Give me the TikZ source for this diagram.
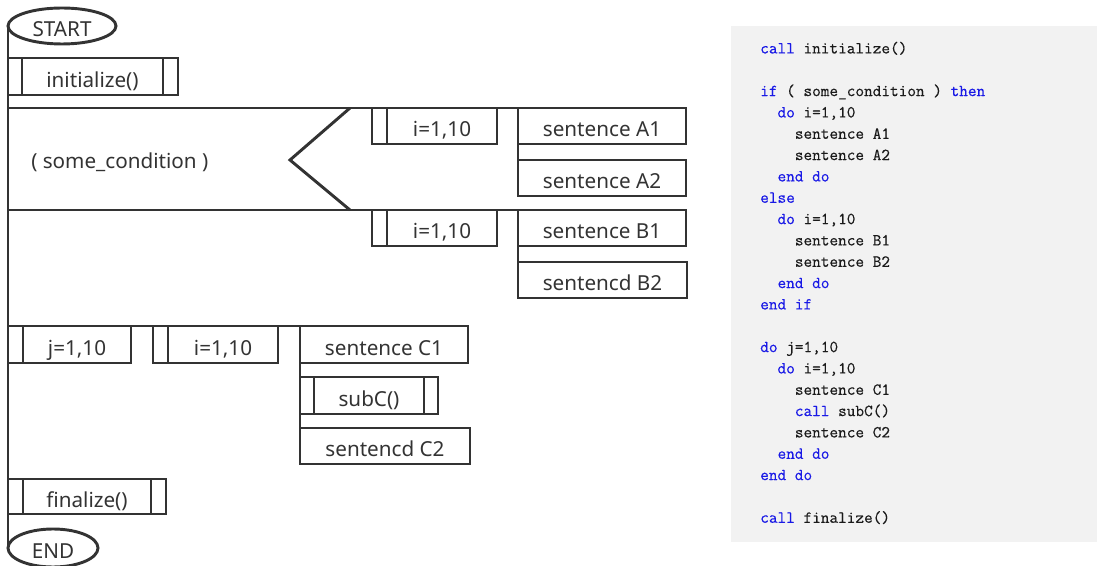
\documentclass[tikz,border=0pt]{standalone}
\usepackage{fontspec}
\setmainfont{Noto Sans}
\newfontfamily\codefont[FakeBold=0.4]{Latin Modern Mono}
\usetikzlibrary{shapes.geometric,calc}
\definecolor{ink}{HTML}{333333}
\definecolor{panel}{HTML}{F2F2F2}
\definecolor{kwblue}{RGB}{25,25,230}
\definecolor{codeink}{HTML}{1A1A1A}
\newcommand\kwd[1]{\textcolor{kwblue}{#1}}
\newcommand\ind[1]{\hphantom{#1}}
% rectangular cell given by its corners (in px units)
\newcommand\cellbox[6]{\node[cell, minimum width={(#4-#2)*0.75pt}, minimum height={(#5-#3)*0.75pt}] (#1) at ({(#2+#4)/2},{(#3+#5)/2}) {#6};}
\begin{document}
\begin{tikzpicture}[x=0.75pt,y=-0.75pt,
  cell/.style={draw=ink, line width=2.2pt, inner sep=0pt, outer sep=0pt, text=ink,
               text height=16pt, text depth=0pt, font=\fontsize{15.5}{18}\selectfont},
  term/.style={cell, ellipse},
  link/.style={draw=ink, line width=2.2pt},
  label/.style={text=ink, inner sep=0pt, font=\fontsize{15.5}{18}\selectfont}]
\useasboundingbox (0,0) rectangle (1097,566);

% code panel
\fill[panel] (731,26) rectangle (1097,542);
\node[anchor=north west, inner sep=0pt, align=left, text=codeink,
      font=\fontsize{12.6}{16}\codefont] (src) at (760,41.5) {%
\kwd{call} initialize()\\
\mbox{}\\
\kwd{if} ( some\_condition ) \kwd{then}\\
\ind{xx}\kwd{do} i=1,10\\
\ind{xxxx}sentence A1\\
\ind{xxxx}sentence A2\\
\ind{xx}\kwd{end do}\\
\kwd{else}\\
\ind{xx}\kwd{do} i=1,10\\
\ind{xxxx}sentence B1\\
\ind{xxxx}sentence B2\\
\ind{xx}\kwd{end do}\\
\kwd{end if}\\
\mbox{}\\
\kwd{do} j=1,10\\
\ind{xx}\kwd{do} i=1,10\\
\ind{xxxx}sentence C1\\
\ind{xxxx}\kwd{call} subC()\\
\ind{xxxx}sentence C2\\
\ind{xx}\kwd{end do}\\
\kwd{end do}\\
\mbox{}\\
\kwd{call} finalize()};

% terminals and main spine
\node[term, minimum width=81pt, minimum height=27pt] (start) at (62,26) {START};
\node[term, minimum width=67.5pt, minimum height=28.5pt] (end) at (53,548) {END};
\draw[link] (start.west) -- (end.west);

% call initialize()
\cellbox{initL}{8}{58}{22}{95}{}
\cellbox{init}{22}{58}{163}{95}{initialize()}
\cellbox{initR}{163}{58}{178}{95}{}

% if / else block
\node[label, anchor=west] (cond) at (31,162) {( some\_condition )};
\cellbox{loopAs}{372}{108}{387}{144}{}
\cellbox{loopA}{387}{108}{497}{144}{i=1,10}
\cellbox{A1}{518}{108}{686}{144}{sentence A1}
\cellbox{A2}{518}{160}{686}{196}{sentence A2}
\cellbox{loopBs}{372}{210}{387}{246}{}
\cellbox{loopB}{387}{210}{497}{246}{i=1,10}
\cellbox{B1}{518}{210}{686}{246}{sentence B1}
\cellbox{B2}{518}{262}{687}{298}{sentencd B2}
\coordinate (ifTop) at (8,108);
\coordinate (ifBot) at (8,210);
\coordinate (vTop) at (350,108);
\coordinate (vTip) at (290,160);
\coordinate (vBot) at (350,210);
\draw[link] (ifTop) -- (A1.north east);
\draw[link] (ifBot) -- (B1.north east);
\draw[link, line join=miter] (vTop) -- (vTip) -- (vBot);
\draw[link] (A1.south west) -- (A2.north west);
\draw[link] (B1.south west) -- (B2.north west);

% nested loops
\cellbox{loopJs}{8}{326}{23}{363}{}
\cellbox{loopJ}{23}{326}{131}{363}{j=1,10}
\cellbox{loopIs}{153}{326}{168}{363}{}
\cellbox{loopI}{168}{326}{278}{363}{i=1,10}
\cellbox{C1}{300}{326}{468}{363}{sentence C1}
\cellbox{subL}{300}{377}{314}{414}{}
\cellbox{sub}{314}{377}{424}{414}{subC()}
\cellbox{subR}{424}{377}{438}{414}{}
\cellbox{C2}{300}{428}{470}{464}{sentencd C2}
\draw[link] (loopJs.north west) -- (C1.north east);
\draw[link] (C1.south west) -- (C2.north west);

% call finalize()
\cellbox{finL}{8}{479}{23}{514}{}
\cellbox{fin}{23}{479}{151}{514}{finalize()}
\cellbox{finR}{151}{479}{166}{514}{}
\end{tikzpicture}
\end{document}
